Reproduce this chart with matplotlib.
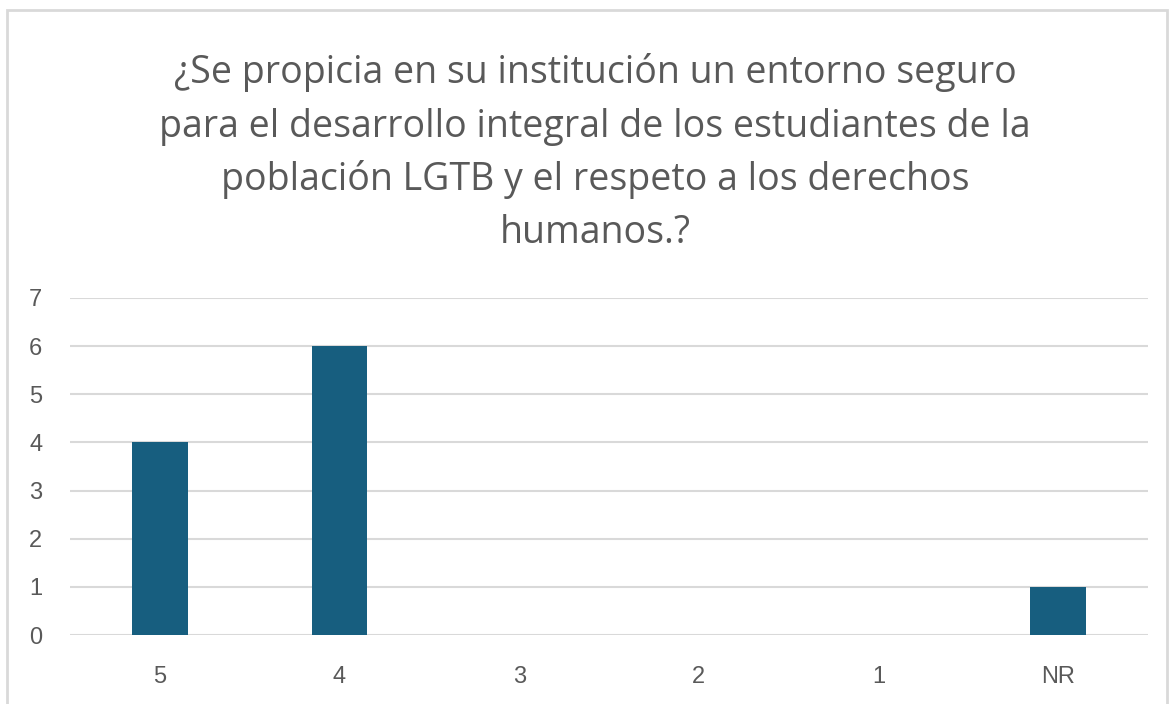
import matplotlib.pyplot as plt
from matplotlib.patches import Rectangle

categories = ['5', '4', '3', '2', '1', 'NR']
counts = [4, 6, 0, 0, 0, 1]
title_lines = [
    '¿Se propicia en su institución un entorno seguro',
    'para el desarrollo integral de los estudiantes de la',
    'población LGTB y el respeto a los derechos',
    'humanos.?',
]

text_color = '#595959'
bar_color = '#175E7F'
grid_color = '#D9D9D9'

fig = plt.figure(figsize=(11.7, 7.04), dpi=100)

# outer chart frame
fig.patches.append(Rectangle((7 / 1170, -0.01), 1160 / 1170, 1 - 10 / 704 + 0.01,
                             transform=fig.transFigure, fill=False,
                             edgecolor='#D9D9D9', linewidth=2))

# title, one line at a time
baselines = [83, 137, 190, 243]
for line, yb in zip(title_lines, baselines):
    fig.text(595 / 1170, 1 - yb / 704, line, ha='center', va='baseline',
             fontsize=27, color=text_color, family='Open Sans')

ax = fig.add_axes([70 / 1170, 69 / 704, 1078 / 1170, 337 / 704])
x = range(len(categories))
ax.bar(x, counts, width=0.31, color=bar_color, zorder=3)

ax.set_xlim(-0.5, len(categories) - 0.5)
ax.set_ylim(0, 7)
ax.set_yticks(range(8))
ax.set_xticks(list(x))
ax.set_xticklabels(categories)
ax.grid(axis='y', color=grid_color, linewidth=1.5, zorder=0)
ax.set_axisbelow(True)
for s in ax.spines.values():
    s.set_visible(False)
ax.tick_params(length=0, labelsize=17, labelcolor=text_color)
ax.tick_params(axis='x', pad=22)
ax.tick_params(axis='y', pad=20)
for lab in ax.get_xticklabels() + ax.get_yticklabels():
    lab.set_family('Liberation Sans')

fig.savefig('out.png', dpi=100)
